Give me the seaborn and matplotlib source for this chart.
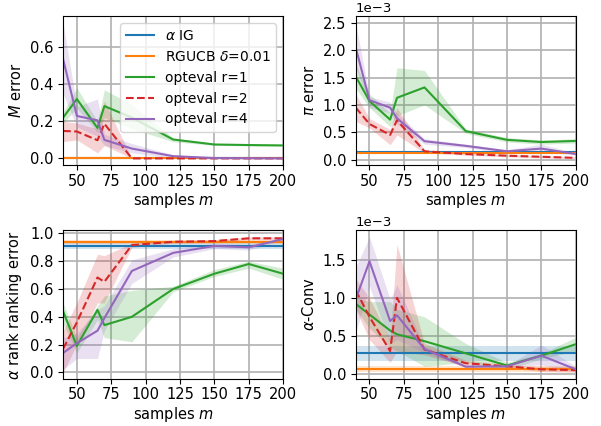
import matplotlib
matplotlib.use('Agg')
import matplotlib.pyplot as plt
import pandas as pd
import seaborn as sns

plt.rcParams['font.size'] = 10.5
plt.rcParams['legend.fontsize'] = 10

m = [40, 50, 65, 70, 90, 120, 150, 175, 200]
methods = ['opteval r=1', 'opteval r=2', 'opteval r=4']

# M error
M_r1 = [0.22, 0.32, 0.164, 0.282, 0.22, 0.102, 0.075, 0.072, 0.07]
M_r1_lo = [0.19, 0.27, 0.14, 0.22, 0.16, 0.09, 0.07, 0.068, 0.066]
M_r1_hi = [0.25, 0.38, 0.20, 0.37, 0.29, 0.11, 0.08, 0.076, 0.074]
M_r2 = [0.148, 0.145, 0.098, 0.187, 0.0, 0.0, 0.0, 0.0, 0.0]
M_r2_lo = [0.09, 0.10, 0.03, 0.07, 0.0, 0.0, 0.0, 0.0, 0.0]
M_r2_hi = [0.20, 0.19, 0.16, 0.31, 0.0, 0.0, 0.0, 0.0, 0.0]
M_r4 = [0.535, 0.229, 0.205, 0.10, 0.053, 0.012, 0.002, 0.001, 0.0]
M_r4_lo = [0.35, 0.17, 0.12, 0.07, 0.03, 0.0, 0.0, 0.0, 0.0]
M_r4_hi = [0.73, 0.28, 0.32, 0.13, 0.08, 0.02, 0.005, 0.003, 0.0]
M_ig = [0.0, 0.0, 0.0]      # mean, lo, hi
M_ucb = [0.0, 0.0, 0.0]

# pi error (values in 1e-3)
P_r1 = [1.52, 1.07, 0.73, 1.13, 1.32, 0.52, 0.36, 0.32, 0.34]
P_r1_lo = [1.30, 0.95, 0.60, 0.80, 1.00, 0.48, 0.32, 0.28, 0.30]
P_r1_hi = [1.75, 1.20, 0.85, 1.68, 1.63, 0.56, 0.40, 0.36, 0.38]
P_r2 = [0.95, 0.65, 0.45, 0.72, 0.15, 0.10, 0.07, 0.05, 0.03]
P_r2_lo = [0.70, 0.58, 0.27, 0.45, 0.12, 0.08, 0.05, 0.03, 0.02]
P_r2_hi = [1.20, 0.75, 0.55, 0.95, 0.18, 0.12, 0.09, 0.07, 0.05]
P_r4 = [2.05, 1.085, 0.95, 0.755, 0.335, 0.25, 0.15, 0.20, 0.10]
P_r4_lo = [1.70, 0.95, 0.85, 0.65, 0.28, 0.22, 0.12, 0.15, 0.08]
P_r4_hi = [2.50, 1.15, 1.05, 0.85, 0.38, 0.28, 0.18, 0.28, 0.12]
P_ig = [0.14, 0.125, 0.155]
P_ucb = [0.11, 0.105, 0.115]

# alpha rank ranking error
A_r1 = [0.44, 0.19, 0.45, 0.34, 0.40, 0.60, 0.71, 0.78, 0.71]
A_r1_lo = [0.35, 0.14, 0.38, 0.25, 0.22, 0.58, 0.69, 0.75, 0.67]
A_r1_hi = [0.50, 0.25, 0.48, 0.55, 0.59, 0.62, 0.74, 0.80, 0.75]
A_r2 = [0.17, 0.36, 0.683, 0.652, 0.916, 0.94, 0.945, 0.965, 0.965]
A_r2_lo = [0.0, 0.20, 0.50, 0.50, 0.90, 0.93, 0.935, 0.955, 0.955]
A_r2_hi = [0.30, 0.50, 0.85, 0.84, 0.93, 0.95, 0.955, 0.975, 0.975]
A_r4 = [0.14, 0.21, 0.30, 0.39, 0.73, 0.86, 0.91, 0.90, 0.96]
A_r4_lo = [0.02, 0.10, 0.10, 0.30, 0.64, 0.83, 0.89, 0.88, 0.95]
A_r4_hi = [0.25, 0.28, 0.45, 0.48, 0.81, 0.89, 0.93, 0.92, 0.97]
A_ig = [0.91, 0.89, 0.93]
A_ucb = [0.937, 0.925, 0.95]

# alpha-Conv (values in 1e-3)
C_r1 = [0.92, 0.78, 0.57, 0.52, 0.43, 0.27, 0.11, 0.24, 0.39]
C_r1_lo = [0.85, 0.60, 0.35, 0.30, 0.10, 0.15, 0.05, 0.20, 0.30]
C_r1_hi = [1.00, 0.95, 0.95, 0.85, 0.75, 0.40, 0.15, 0.27, 0.48]
C_r2 = [1.10, 0.75, 0.30, 1.00, 0.32, 0.14, 0.10, 0.06, 0.05]
C_r2_lo = [0.85, 0.45, 0.15, 0.30, 0.25, 0.10, 0.08, 0.03, 0.02]
C_r2_hi = [1.25, 1.00, 0.45, 1.70, 0.40, 0.18, 0.12, 0.10, 0.09]
C_r4 = [0.98, 1.48, 0.695, 0.77, 0.326, 0.095, 0.10, 0.24, 0.06]
C_r4_lo = [0.55, 1.15, 0.40, 0.45, 0.28, 0.08, 0.09, 0.12, 0.03]
C_r4_hi = [1.40, 1.80, 0.98, 1.17, 0.36, 0.11, 0.11, 0.38, 0.10]
C_ig = [0.27, 0.17, 0.37]
C_ucb = [0.07, 0.03, 0.11]

panels = [
    (r'$M$ error', 1, M_ig, M_ucb, [(M_r1, M_r1_lo, M_r1_hi), (M_r2, M_r2_lo, M_r2_hi), (M_r4, M_r4_lo, M_r4_hi)]),
    (r'$\pi$ error', 1e-3, P_ig, P_ucb, [(P_r1, P_r1_lo, P_r1_hi), (P_r2, P_r2_lo, P_r2_hi), (P_r4, P_r4_lo, P_r4_hi)]),
    (r'$\alpha$ rank ranking error', 1, A_ig, A_ucb, [(A_r1, A_r1_lo, A_r1_hi), (A_r2, A_r2_lo, A_r2_hi), (A_r4, A_r4_lo, A_r4_hi)]),
    (r'$\alpha$-Conv', 1e-3, C_ig, C_ucb, [(C_r1, C_r1_lo, C_r1_hi), (C_r2, C_r2_lo, C_r2_hi), (C_r4, C_r4_lo, C_r4_hi)]),
]
yticks = [
    [0.0, 0.2, 0.4, 0.6],
    [0.0, 0.5e-3, 1.0e-3, 1.5e-3, 2.0e-3, 2.5e-3],
    [0.0, 0.2, 0.4, 0.6, 0.8, 1.0],
    [0.0, 0.5e-3, 1.0e-3, 1.5e-3],
]

colors = ['tab:green', 'tab:red', 'tab:purple']
styles = ['-', '--', '-']

fig, axes = plt.subplots(2, 2, figsize=(6.01, 4.26), dpi=100)
fig.subplots_adjust(left=0.105, right=0.958, top=0.962, bottom=0.11, wspace=0.33, hspace=0.436)

for ax, (ylabel, scale, ig, ucb, series), yt in zip(axes.flat, panels, yticks):
    ax.grid(True, color='#b0b0b0', linewidth=1.2)
    ax.set_axisbelow(True)

    # baselines
    ax.axhline(ig[0] * scale, color='tab:blue', lw=1.5, label=r'$\alpha$ IG')
    ax.axhspan(ig[1] * scale, ig[2] * scale, color='tab:blue', alpha=0.2, lw=0)
    ax.axhline(ucb[0] * scale, color='tab:orange', lw=1.5, label=r'RGUCB $\delta$=0.01')
    ax.axhspan(ucb[1] * scale, ucb[2] * scale, color='tab:orange', alpha=0.2, lw=0)

    for (mean, lo, hi), name, c, ls in zip(series, methods, colors, styles):
        df = pd.DataFrame({'m': m, 'val': [v * scale for v in mean]})
        sns.lineplot(data=df, x='m', y='val', ax=ax, color=c, linestyle=ls, lw=1.5, label=name)
        ax.fill_between(m, [v * scale for v in lo], [v * scale for v in hi], color=c, alpha=0.2, lw=0)

    ax.set_xlim(40, 200)
    ax.set_xticks([50, 75, 100, 125, 150, 175, 200])
    ax.set_yticks(yt)
    ax.tick_params(axis='x', pad=2.5)
    ax.set_xlabel(r'samples $m$', labelpad=1.5)
    ax.set_ylabel(ylabel)
    ax.ticklabel_format(axis='y', style='sci', scilimits=(-2, 3))
    ax.yaxis.get_offset_text().set_fontsize(9.5)
    if ax is axes[0, 0]:
        ax.legend(loc='upper right')
    else:
        ax.get_legend().remove()

fig.savefig('out.png', dpi=100)
